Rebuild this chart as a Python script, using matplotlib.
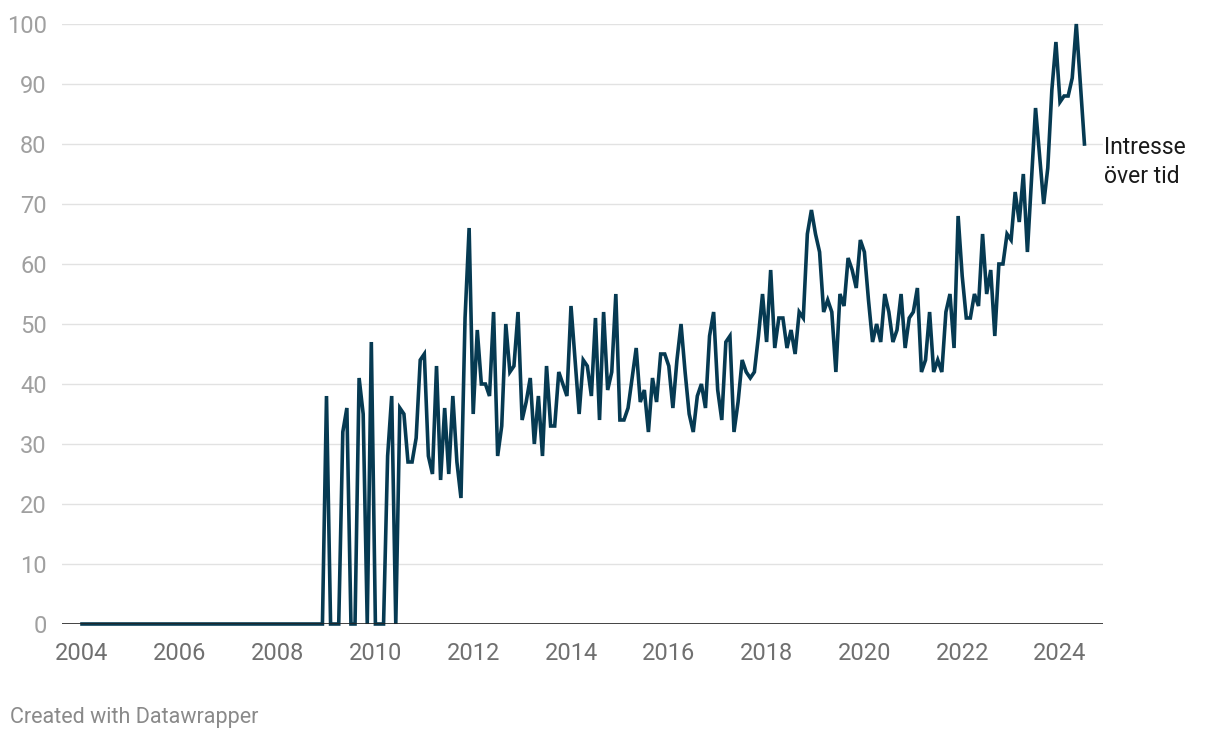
import numpy as np
import matplotlib.pyplot as plt

plt.rcParams['font.family'] = ['Roboto', 'DejaVu Sans']

# monthly interest, Jan 2004 .. Jul 2024
start_year = 2004
interest = [0] * 60 + [
    38, 0, 0, 0, 32, 36, 0, 0, 41, 35, 0, 47,             # 2009
    0, 0, 0, 28, 38, 0, 36, 35, 27, 27, 31, 44,           # 2010
    45, 28, 25, 43, 24, 36, 25, 38, 27, 21, 51, 66,       # 2011
    35, 49, 40, 40, 38, 52, 28, 33, 50, 42, 43, 52,       # 2012
    34, 37, 41, 30, 38, 28, 43, 33, 33, 42, 40, 38,       # 2013
    53, 44, 35, 44, 43, 38, 51, 34, 52, 39, 42, 55,       # 2014
    34, 34, 36, 41, 46, 37, 39, 32, 41, 37, 45, 45,       # 2015
    43, 36, 44, 50, 42, 35, 32, 38, 40, 36, 48, 52,       # 2016
    39, 34, 47, 48, 32, 37, 44, 42, 41, 42, 48, 55,       # 2017
    47, 59, 46, 51, 51, 46, 49, 45, 52, 51, 65, 69,       # 2018
    65, 62, 52, 54, 52, 42, 55, 53, 61, 59, 56, 64,       # 2019
    62, 54, 47, 50, 47, 55, 52, 47, 49, 55, 46, 51,       # 2020
    52, 56, 42, 44, 52, 42, 44, 42, 52, 55, 46, 68,       # 2021
    58, 51, 51, 55, 53, 65, 55, 59, 48, 60, 60, 65,       # 2022
    64, 72, 67, 75, 62, 74, 86, 78, 70, 76, 89, 97,       # 2023
    87, 88, 88, 91, 100, 90, 80,                          # 2024
]
x_ticks = list(range(2004, 2025, 2))
y_ticks = list(range(0, 101, 10))
label = "Intresse\növer tid"

t = start_year + np.arange(len(interest)) / 12

fig = plt.figure(figsize=(12.2, 7.4), dpi=100)
ax = fig.add_axes([62 / 1220, 116 / 740, (1103 - 62) / 1220, 600 / 740])

ax.plot(t, interest, color="#063a52", lw=2.6, solid_joinstyle="miter",
        clip_on=False, zorder=3)

ax.set_xlim(start_year - 20 / 48.9, start_year + (1103 - 82) / 48.9)
ax.set_ylim(0, 100)

for v in y_ticks[1:]:
    ax.axhline(v, color="#e2e2e2", lw=1, zorder=1)
ax.axhline(0, color="#222222", lw=1.2, zorder=4)

ax.set_yticks(y_ticks)
ax.set_xticks(x_ticks)
ax.set_xticklabels([str(y) for y in x_ticks])
ax.tick_params(axis="y", length=0, pad=11, labelsize=17, labelcolor="#a0a0a0")
ax.tick_params(axis="x", length=0, pad=13, labelsize=17, labelcolor="#707070")
for s in ax.spines.values():
    s.set_visible(False)

ax.text(1104 / 1220, 1 - 162 / 740, label, transform=fig.transFigure,
        fontsize=16.5, color="#1a1a1a", va="center", ha="left", linespacing=1.3)

fig.text(10 / 1220, 1 - 717 / 740, "Created with Datawrapper",
         fontsize=15.5, color="#8a8a8a", va="center", ha="left")

fig.savefig("out.png", dpi=100)
